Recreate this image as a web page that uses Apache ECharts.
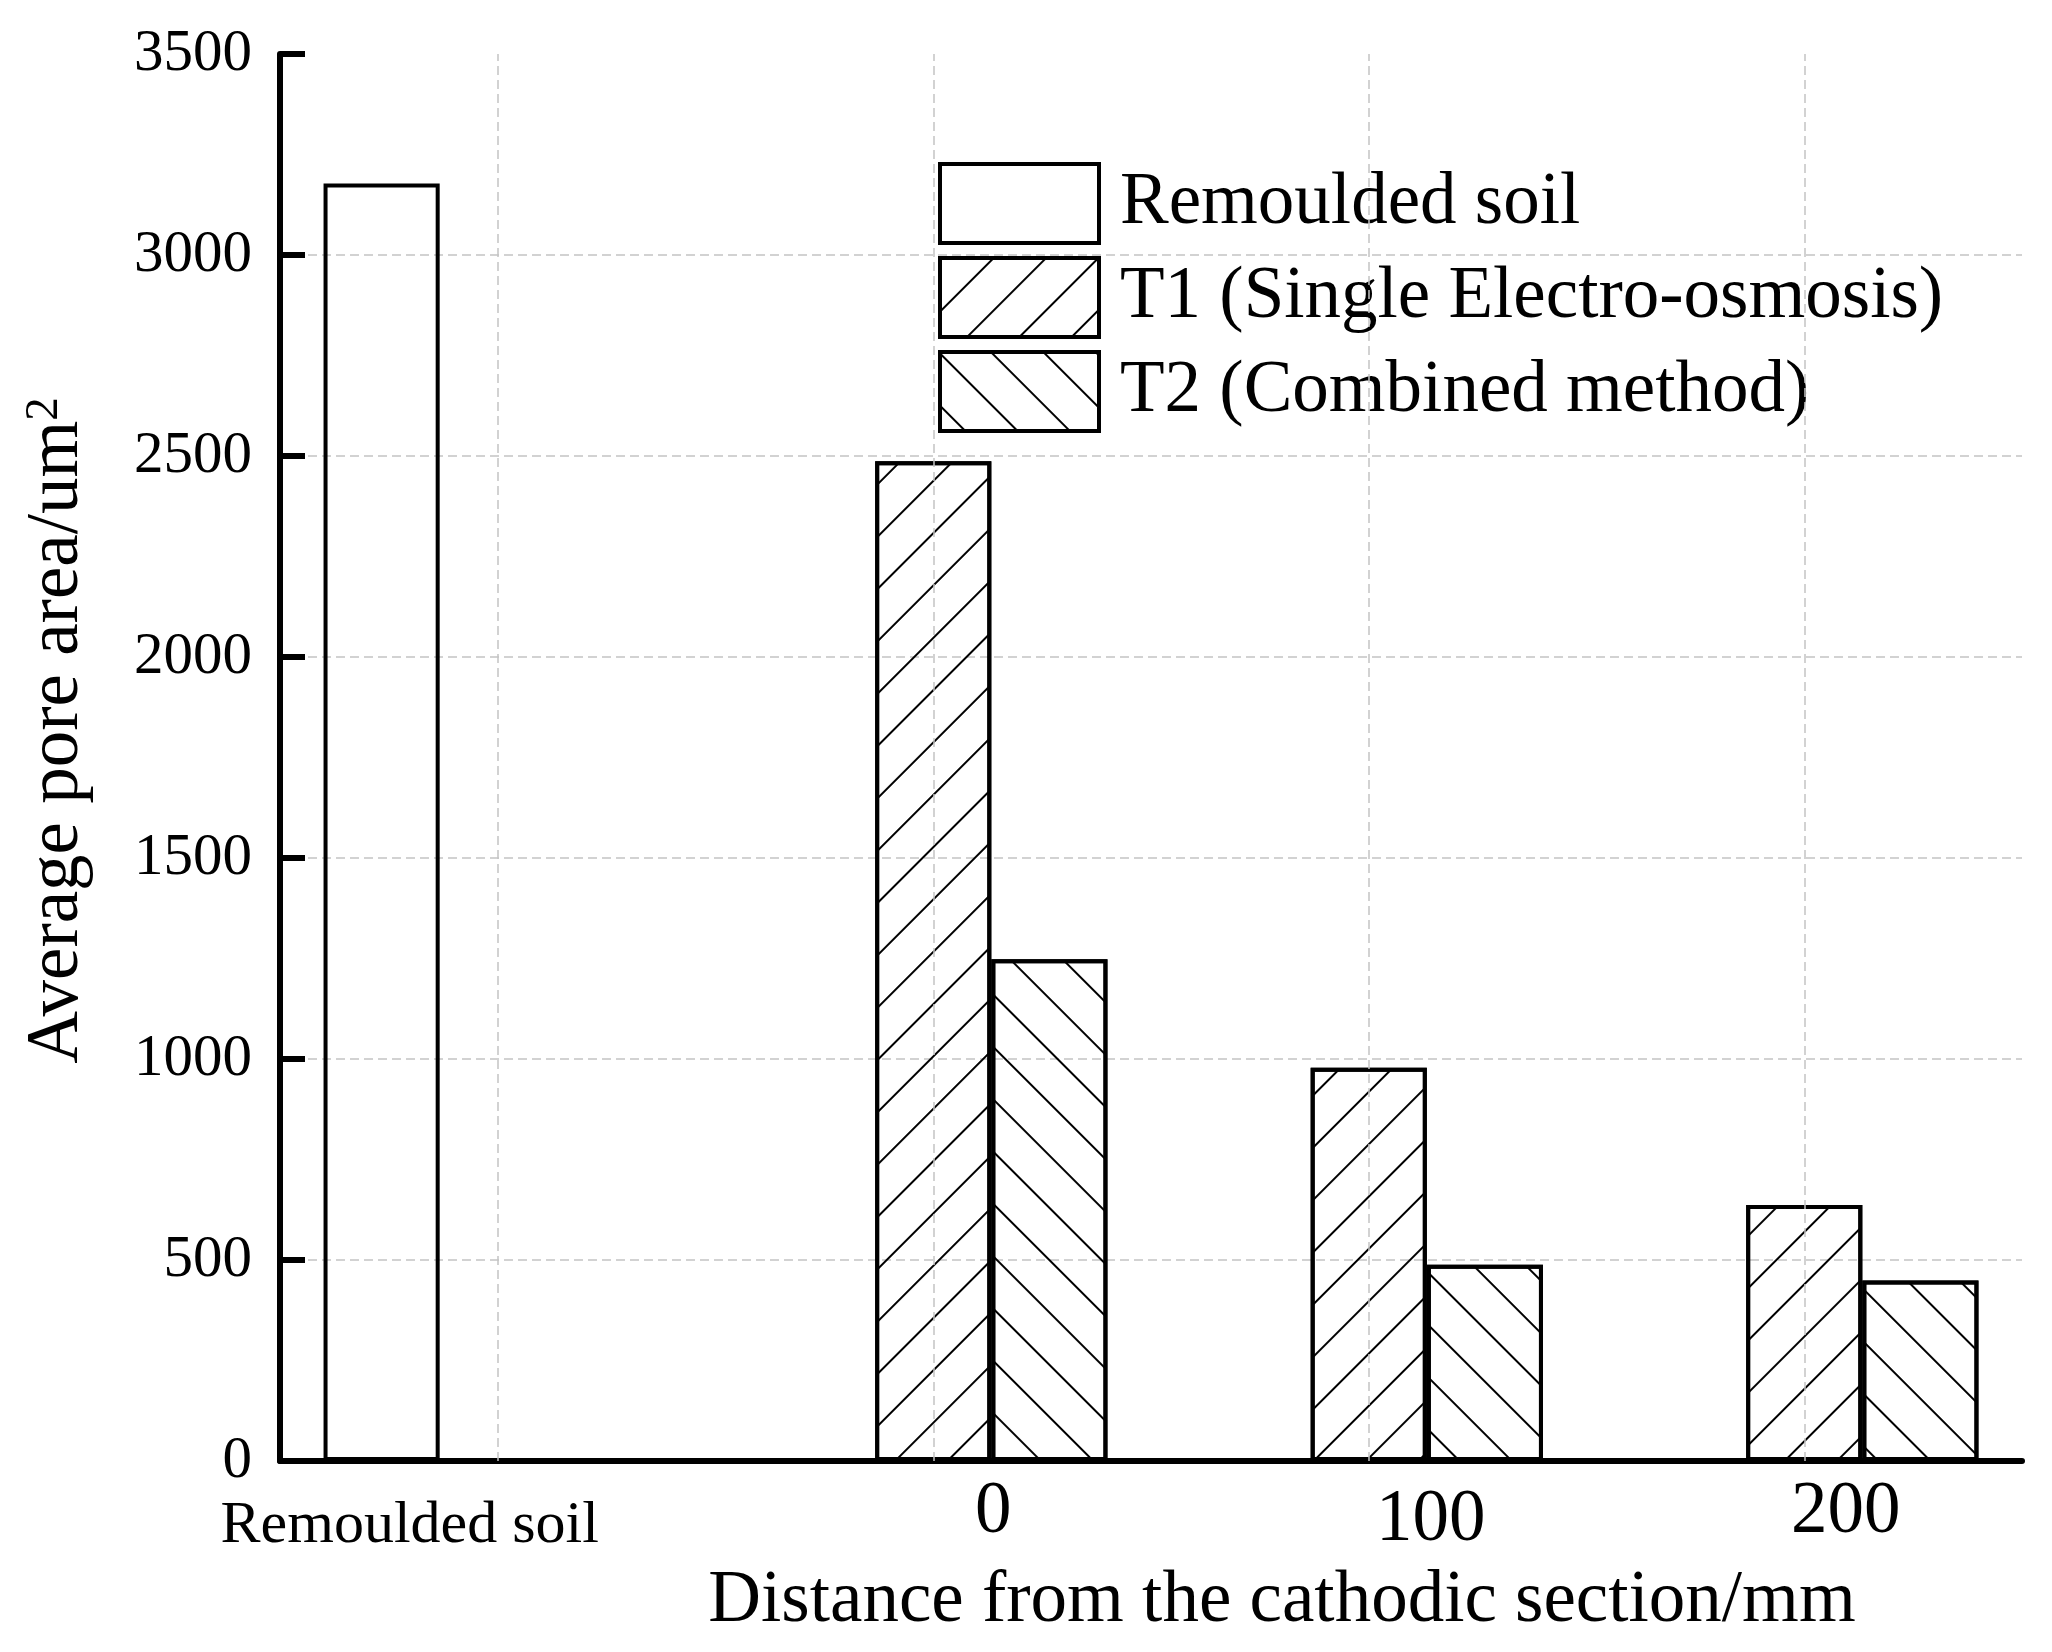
<!DOCTYPE html>
<html>
<head>
<meta charset="utf-8">
<script src="https://cdn.jsdelivr.net/npm/echarts@6/dist/echarts.min.js"></script>
<style>
  html, body { margin: 0; padding: 0; background: #fff; }
  #chart { width: 2052px; height: 1652px; }
</style>
</head>
<body>
<div id="chart"></div>
<script>
// categories on the x axis
var categories = ["Remoulded soil", "0", "100", "200"];
// average pore area (um^2)
var remouldedValues = [3178, "-", "-", "-"];
var t1Values = ["-", 2487, 978, 637];
var t2Values = ["-", 1248, 488, 449];
var seriesNames = ["Remoulded soil", "T1 (Single Electro-osmosis)", "T2 (Combined method)"];
var yTicks = { min: 0, max: 3500, step: 500 };

var font = "Liberation Serif";
var myChart = echarts.init(document.getElementById("chart"));

// label nudges so the tick texts sit where the original put them
var labelPads = [[20, 176, 0, 0], [0, 0, 0, 120], [8, 0, 0, 124], [0, 0, 0, 83]];
var xData = categories.map(function (c, i) {
  return {
    value: c,
    textStyle: {
      fontSize: i === 0 ? 60 : 73,
      lineHeight: i === 0 ? 60 : 73,
      padding: labelPads[i]
    }
  };
});

var gridDash = { color: "#c4c4c4", width: 1.5, type: [9, 5] };

function hatch(rot) {
  return {
    symbol: "rect",
    symbolSize: 1,
    dashArrayX: [1, 0],
    dashArrayY: [2, 35],
    rotation: rot,
    color: "#000"
  };
}

var option = {
  backgroundColor: "#fff",
  animation: false,
  grid: { left: 280, right: 30, top: 54, bottom: 191 },
  legend: {
    orient: "vertical",
    left: 933,
    top: 157,
    itemWidth: 159,
    itemHeight: 79,
    itemGap: 11,
    icon: "rect",
    data: seriesNames,
    itemStyle: { borderColor: "#000", borderWidth: 4 },
    textStyle: { fontFamily: font, fontSize: 73, color: "#000", padding: [0, 0, 0, 16] }
  },
  xAxis: {
    type: "category",
    data: xData,
    name: "Distance from the cathodic section/mm",
    nameLocation: "middle",
    nameGap: 104,
    nameTextStyle: { fontFamily: font, fontSize: 73, lineHeight: 73, color: "#000", padding: [0, 0, 0, 262] },
    axisLine: { lineStyle: { color: "#000", width: 6 } },
    axisTick: { show: false },
    axisLabel: { interval: 0, margin: 15, color: "#000", fontFamily: font },
    splitLine: { show: false }
  },
  yAxis: {
    type: "value",
    min: yTicks.min,
    max: yTicks.max,
    interval: yTicks.step,
    name: "Average pore area/um{sup|2}",
    nameLocation: "middle",
    nameGap: 186,
    nameRotate: 90,
    nameTextStyle: {
      fontFamily: font, fontSize: 73, lineHeight: 73, color: "#000", padding: [0, 0, 0, 54],
      rich: { sup: { fontFamily: font, fontSize: 47, lineHeight: 30, verticalAlign: "top", color: "#000" } }
    },
    axisLine: { show: true, lineStyle: { color: "#000", width: 6 } },
    axisTick: { show: true, inside: true, length: 25, lineStyle: { color: "#000", width: 6 } },
    axisLabel: { fontFamily: font, fontSize: 59, color: "#000", margin: 28, formatter: function (v) { return String(v); } },
    splitLine: { show: true, showMaxLine: false, lineStyle: gridDash }
  },
  series: [
    {
      name: seriesNames[0],
      type: "bar",
      data: remouldedValues,
      barGap: "0%",
      barCategoryGap: "20%",
      itemStyle: { color: "rgba(255,255,255,0)", borderColor: "#000", borderWidth: 4 }
    },
    {
      name: seriesNames[1],
      type: "bar",
      data: t1Values,
      barGap: "0%",
      barCategoryGap: "20%",
      itemStyle: { color: "rgba(255,255,255,0)", borderColor: "#000", borderWidth: 4, decal: hatch(-Math.PI / 4) },
      // the middle bar sits on the category centre, so the vertical grid lines hang off it
      markLine: {
        silent: true,
        symbol: ["none", "none"],
        label: { show: false },
        lineStyle: gridDash,
        data: categories.map(function (c) { return { xAxis: c }; })
      }
    },
    {
      name: seriesNames[2],
      type: "bar",
      data: t2Values,
      barGap: "0%",
      barCategoryGap: "20%",
      itemStyle: { color: "rgba(255,255,255,0)", borderColor: "#000", borderWidth: 4, decal: hatch(Math.PI / 4) }
    }
  ]
};
myChart.setOption(option);
</script>
</body>
</html>
